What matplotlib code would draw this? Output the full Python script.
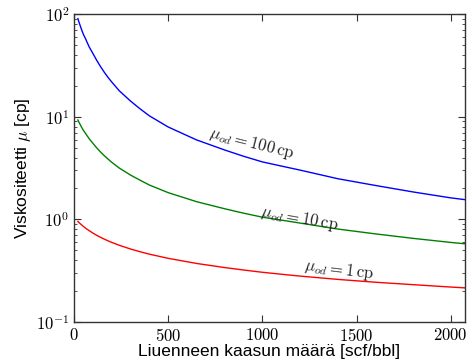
import matplotlib
matplotlib.use("Agg")
import matplotlib.pyplot as plt
import numpy as np

plt.rcParams['mathtext.fontset'] = 'cm'
plt.rcParams['font.family'] = ['Liberation Sans', 'DejaVu Sans']

# Dissolved gas (scf/bbl)
rs = [20, 25, 30, 40, 50, 60, 70, 80, 100, 120, 140, 160, 180, 200, 240,
      300, 350, 400, 500, 650, 800, 900, 1000, 1100, 1200, 1400, 1600, 1800,
      2000, 2075]
# Live oil viscosity (cp) for dead-oil viscosity 100, 10 and 1 cp
mu_100 = [90.5, 84.6, 79.4, 70.4, 63.1, 58.0, 52.7, 48.0, 41.3, 35.5, 30.9,
          27.2, 24.2, 21.8, 17.9, 14.2, 11.96, 10.2, 7.94, 5.95, 4.74, 4.12,
          3.63, 3.31, 3.02, 2.49, 2.14, 1.85, 1.62, 1.557]
mu_10 = [9.30, 8.90, 8.54, 7.89, 7.34, 6.91, 6.49, 6.11, 5.51, 4.98, 4.54,
         4.18, 3.87, 3.60, 3.16, 2.70, 2.41, 2.16, 1.82, 1.488, 1.268, 1.149,
         1.05, 0.984, 0.92, 0.805, 0.722, 0.653, 0.596, 0.578]
mu_1 = [0.956, 0.936, 0.917, 0.883, 0.852, 0.824, 0.799, 0.776, 0.735, 0.699,
        0.669, 0.642, 0.618, 0.596, 0.559, 0.514, 0.484, 0.458, 0.417, 0.372,
        0.339, 0.321, 0.305, 0.292, 0.280, 0.260, 0.244, 0.231, 0.219, 0.215]

labels = [r'$\mu_{od} = 100\,\mathrm{cp}$', r'$\mu_{od} = 10\,\mathrm{cp}$',
          r'$\mu_{od} = 1\,\mathrm{cp}$']
x_ticks = [0, 500, 1000, 1500, 2000]
y_ticks = [0.1, 1, 10, 100]
y_tick_labels = [r'$10^{-1}$', r'$10^{0}$', r'$10^{1}$', r'$10^{2}$']

fig = plt.figure(figsize=(4.72, 3.63), dpi=100)
ax = fig.add_axes([0.157, 0.113, 0.828, 0.848])

ax.plot(rs, mu_100, color='#0000ff', lw=1.0)
ax.plot(rs, mu_10, color='#008000', lw=1.0)
ax.plot(rs, mu_1, color='#ff0000', lw=1.0)

ax.set_yscale('log')
ax.set_xlim(0, 2075)
ax.set_ylim(0.1, 100)
ax.set_xticks(x_ticks)
ax.set_xticklabels([r'$%d$' % v for v in x_ticks], fontsize=12)
ax.set_yticks(y_ticks)
ax.set_yticklabels(y_tick_labels, fontsize=12)
ax.xaxis.set_minor_locator(matplotlib.ticker.NullLocator())

ax.tick_params(which='both', direction='in', top=True, right=True, color='#333333')
ax.tick_params(which='major', length=5, width=0.8)
ax.tick_params(which='minor', length=2.5, width=0.6)
for s in ax.spines.values():
    s.set_color('#333333')
    s.set_linewidth(1.0)

ax.set_xlabel('Liuenneen kaasun määrä [scf/bbl]', fontsize=12.5, labelpad=0)
ax.set_ylabel(r'Viskositeetti $\mu$ [cp]', fontsize=12.5, labelpad=2)

ax.text(943, 5.55, labels[0], fontsize=12, rotation=-14, ha='center', va='center', color='#222222')
ax.text(1197, 1.03, labels[1], fontsize=12, rotation=-10, ha='center', va='center', color='#222222')
ax.text(1408, 0.32, labels[2], fontsize=12, rotation=-7, ha='center', va='center', color='#222222')

fig.savefig('out.png', dpi=100)
